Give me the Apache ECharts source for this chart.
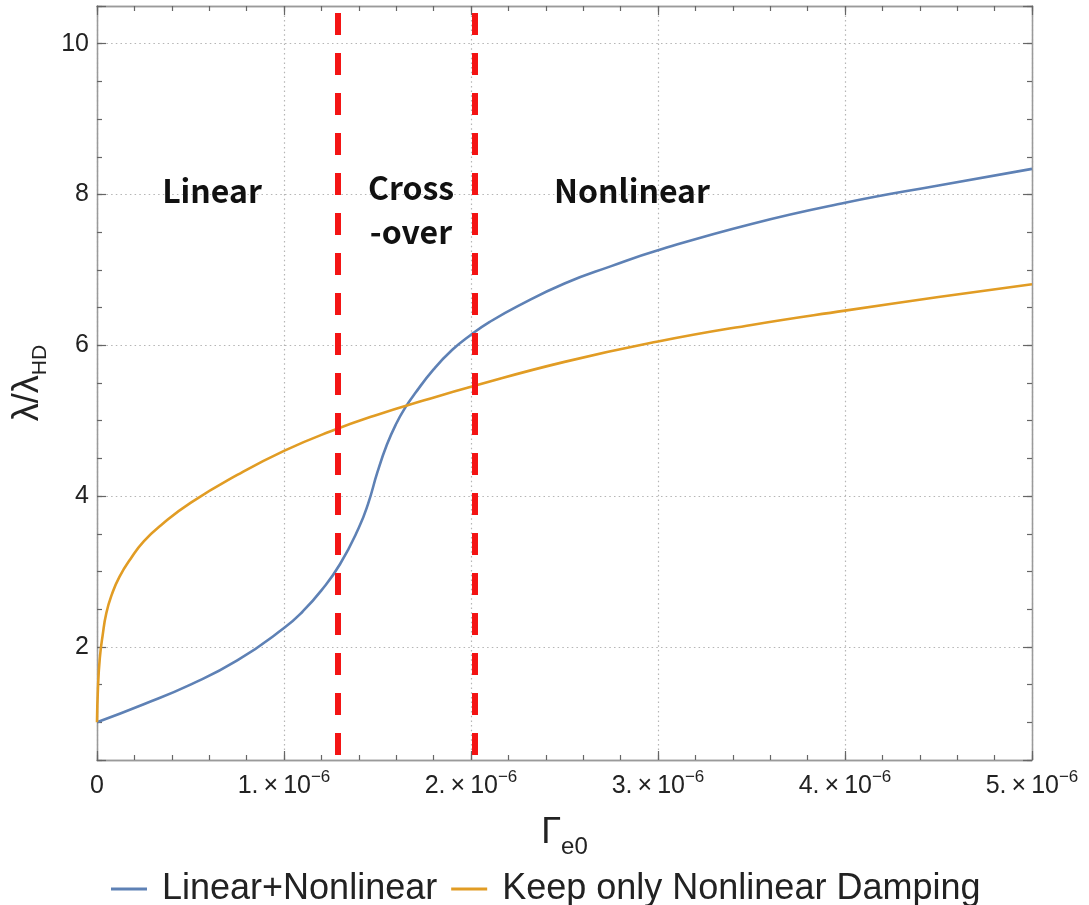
<!DOCTYPE html>
<html>
<head>
<meta charset="utf-8">
<script src="https://cdn.jsdelivr.net/npm/echarts@6/dist/echarts.min.js"></script>
<style>html,body{margin:0;padding:0;background:#fff}#c{width:1089px;height:905px}</style>
</head>
<body>
<div id="c"></div>
<script>
// ---- data (x in units of 1e-6) ----
const blueX = [0, 0.25, 0.5, 0.75, 1.0, 1.1, 1.2, 1.3, 1.4, 1.45, 1.5, 1.55, 1.6, 1.65, 1.7, 1.8, 1.9, 2.0, 2.1, 2.25, 2.5, 2.75, 3.0, 3.5, 4.0, 4.5, 5.0];
const blueY = [1.00, 1.24, 1.50, 1.82, 2.25, 2.47, 2.75, 3.10, 3.58, 3.90, 4.32, 4.68, 4.96, 5.18, 5.36, 5.68, 5.94, 6.14, 6.31, 6.52, 6.82, 7.05, 7.26, 7.61, 7.89, 8.12, 8.34];
const orangeX = [0, 0.005, 0.015, 0.03, 0.05, 0.08, 0.12, 0.18, 0.25, 0.35, 0.5, 0.75, 1.0, 1.25, 1.5, 1.75, 2.0, 2.5, 3.0, 3.5, 4.0, 4.5, 5.0];
const orangeY = [1.00, 1.45, 1.85, 2.15, 2.45, 2.70, 2.93, 3.17, 3.40, 3.63, 3.91, 4.28, 4.60, 4.86, 5.08, 5.27, 5.45, 5.78, 6.05, 6.27, 6.46, 6.64, 6.81];
const dividers = [1.29, 2.02];
const seriesNames = ['Linear+Nonlinear', 'Keep only Nonlinear Damping'];
const xTickLabels = [0, 1, 2, 3, 4, 5];
const yTickLabels = [2, 4, 6, 8, 10];
const regionNames = ['Linear', 'Cross\n-over', 'Nonlinear'];

const pairs = (xs, ys) => xs.map((x, i) => [x, ys[i]]);

const FONT = '"Liberation Sans", Arial, sans-serif';
const AXIS_COLOR = '#9a9a9a';
const TICK_COLOR = '#666';
const GRID_STYLE = { color: '#b5b5b5', width: 1.2, type: [1.5, 3.2] };

function xAx(pos, interval, len, main) {
  return {
    type: 'value', position: pos, min: 0, max: 5, interval: interval,
    axisLine: { show: true, onZero: false, lineStyle: { color: AXIS_COLOR, width: 1.3 } },
    axisTick: { show: true, inside: true, length: len, lineStyle: { color: TICK_COLOR, width: 1.2 } },
    axisLabel: main ? {
      show: true, margin: 9, color: '#222', fontFamily: FONT,
      formatter: v => {
        const k = xTickLabels.find(t => Math.abs(t - v) < 1e-9);
        if (k === undefined) return '';
        return k === 0 ? '{n|0}' : '{n|' + k + '.\u2009×\u200910}{sup|\u2212' + '6}';
      },
      rich: {
        n: { fontSize: 25, lineHeight: 34, fontFamily: FONT, color: '#222' },
        sup: { fontSize: 17, lineHeight: 17, verticalAlign: 'top', fontFamily: FONT, color: '#222' }
      }
    } : { show: false },
    splitLine: { show: main && pos === 'bottom', lineStyle: GRID_STYLE },
    name: main && pos === 'bottom' ? '{g|Γ}{s|e0}' : '',
    nameLocation: 'middle', nameGap: 47,
    nameTextStyle: {
      rich: {
        g: { fontSize: 36, lineHeight: 52, fontFamily: FONT, color: '#222' },
        s: { fontSize: 24, lineHeight: 24, verticalAlign: 'bottom', fontFamily: FONT, color: '#222' }
      }
    }
  };
}
function yAx(pos, interval, len, main) {
  const o = {
    type: 'value', position: pos, min: 0.5, max: 10.5,
    axisLine: { show: true, onZero: false, lineStyle: { color: AXIS_COLOR, width: 1.3 } },
    axisTick: { show: true, inside: true, length: len, lineStyle: { color: TICK_COLOR, width: 1.2 } },
    axisLabel: (main && pos === 'left') ? {
      show: true, margin: 8, color: '#222', fontSize: 25, fontFamily: FONT,
      formatter: v => yTickLabels.some(t => Math.abs(t - v) < 1e-9) ? String(Math.round(v)) : ''
    } : { show: false },
    splitLine: { show: main && pos === 'left', lineStyle: GRID_STYLE },
    name: (main && pos === 'left') ? '{a|λ/λ}{s|HD}' : '',
    nameLocation: 'middle', nameGap: 46, nameRotate: 90,
    nameTextStyle: {
      rich: {
        a: { fontSize: 36, lineHeight: 44, fontFamily: FONT, color: '#222' },
        s: { fontSize: 21, lineHeight: 21, verticalAlign: 'bottom', fontFamily: FONT, color: '#222' }
      }
    }
  };
  if (interval != null) o.interval = interval;
  return o;
}

const chart = echarts.init(document.getElementById('c'), null, { renderer: 'canvas' });
chart.setOption({
  animation: false,
  backgroundColor: '#fff',
  grid: { left: 97, right: 57, top: 6, bottom: 145, containLabel: false },
  xAxis: [xAx('bottom', 1, 9, true), xAx('bottom', 0.2, 5, false), xAx('top', 1, 9, false), xAx('top', 0.2, 5, false)],
  yAxis: [yAx('left', null, 9, true), yAx('left', 0.5, 5, false), yAx('right', null, 9, false), yAx('right', 0.5, 5, false)],
  legend: {
    top: 866, left: 106, itemWidth: 36, itemHeight: 3, itemGap: 14, icon: 'rect',
    textStyle: { fontSize: 36, color: '#222', fontFamily: FONT, padding: [0, 0, 0, 10] },
    data: seriesNames
  },
  series: [
    {
      name: seriesNames[0], type: 'line', xAxisIndex: 0, yAxisIndex: 0,
      data: pairs(blueX, blueY), smooth: 0.5, showSymbol: false,
      lineStyle: { color: '#5E81B5', width: 2.6 }, itemStyle: { color: '#5E81B5' }, z: 3
    },
    {
      name: seriesNames[1], type: 'line', xAxisIndex: 0, yAxisIndex: 0,
      data: pairs(orangeX, orangeY), smooth: 0.5, showSymbol: false,
      lineStyle: { color: '#E19C24', width: 2.6 }, itemStyle: { color: '#E19C24' }, z: 3,
      markLine: {
        silent: true, symbol: ['none', 'none'], animation: false,
        label: { show: false },
        lineStyle: { color: '#f41414', width: 6, type: [22, 18] },
        data: dividers.map(d => [{ coord: [d, 0.567] }, { coord: [d, 10.416] }])
      }
    }
  ],
  graphic: [
    { type: 'text', x: 212, y: 191, z: 10, style: { text: regionNames[0], font: 'bold 32px "Noto Sans CJK SC"', fill: '#111', align: 'center', verticalAlign: 'middle' } },
    { type: 'text', x: 411, y: 210, z: 10, style: { text: regionNames[1], font: 'bold 32px "Noto Sans CJK SC"', lineHeight: 44, fill: '#111', align: 'center', verticalAlign: 'middle' } },
    { type: 'text', x: 632, y: 191, z: 10, style: { text: regionNames[2], font: 'bold 32px "Noto Sans CJK SC"', fill: '#111', align: 'center', verticalAlign: 'middle' } }
  ]
});
</script>
</body>
</html>
